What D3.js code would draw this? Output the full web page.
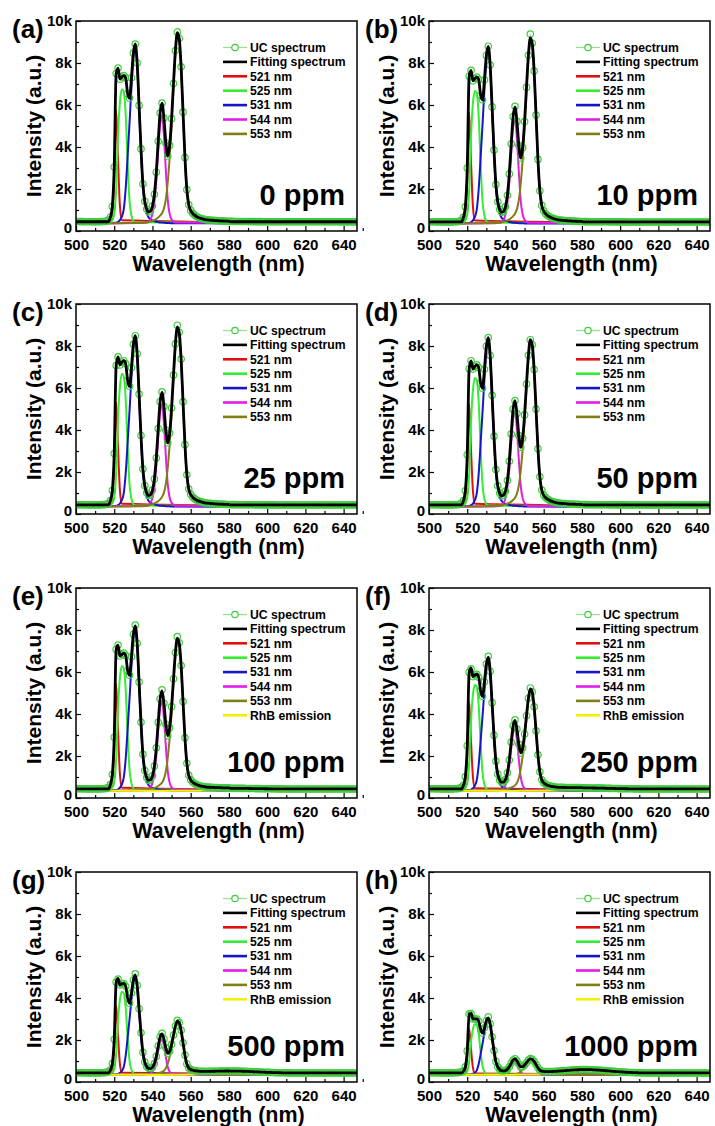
<!DOCTYPE html>
<html>
<head>
<meta charset="utf-8">
<script src="https://cdn.jsdelivr.net/npm/d3@7"></script>
<style>
  body { margin: 0; background: #fff; }
  svg text { font-family: "Liberation Sans", Arial, sans-serif; font-weight: bold; }
</style>
</head>
<body>
<svg id="fig" width="715" height="1126"></svg>
<script>
// ---- data ----
var panelTags = ["(a)", "(b)", "(c)", "(d)", "(e)", "(f)", "(g)", "(h)"];
var dopings = ["0 ppm", "10 ppm", "25 ppm", "50 ppm", "100 ppm", "250 ppm", "500 ppm", "1000 ppm"];
var xTicks = [500, 520, 540, 560, 580, 600, 620, 640];
var yTicks = [0, 2000, 4000, 6000, 8000, 10000];
var yTickLabels = ["0", "2k", "4k", "6k", "8k", "10k"];

// baseline of the fit and of the component curves, per panel
var fitBaseline = [440, 430, 430, 430, 430, 430, 430, 430];
var compBaseline = [350, 340, 340, 340, 340, 340, 340, 340];

// normalised shape of each fitted band (1 nm steps from its start wavelength)
var start521 = 518;
var shape521 = [0.03, 0.1, 0.4, 1, 0.55, 0.15, 0.03];
var start525 = 518;
var shape525 = [0.01, 0.03, 0.07, 0.25, 0.66, 0.9, 0.99, 0.97, 0.8, 0.45, 0.17, 0.06, 0.02, 0.01];
var start531 = 521;
var shape531 = [0.005, 0.01, 0.02, 0.04, 0.083, 0.2, 0.38, 0.57, 0.77, 0.94, 1, 0.9, 0.66, 0.41, 0.21,
  0.11, 0.06, 0.035, 0.025, 0.018, 0.014, 0.011, 0.009, 0.007, 0.006, 0.005, 0.004, 0.0035, 0.003, 0.0025];
var start544 = 537;
var shape544 = [0.01, 0.02, 0.04, 0.09, 0.2, 0.4, 0.68, 0.93, 1, 0.82, 0.5, 0.22, 0.09, 0.04, 0.02, 0.01];
var start553 = 534;
var shape553 = [0.003, 0.004, 0.005, 0.006, 0.008, 0.011, 0.015, 0.019, 0.025, 0.032, 0.042, 0.055, 0.08,
  0.13, 0.22, 0.35, 0.52, 0.72, 0.9, 1, 0.97, 0.82, 0.58, 0.34, 0.17, 0.09, 0.06, 0.045, 0.035, 0.028,
  0.023, 0.019, 0.016, 0.013, 0.011, 0.01, 0.009, 0.008, 0.007, 0.006, 0.0055, 0.005, 0.0045, 0.004,
  0.0035, 0.003, 0.0025];
var startRhB = 556;
var shapeRhB = [0.09, 0.11, 0.135, 0.16, 0.19, 0.22, 0.25, 0.29, 0.325, 0.37, 0.41, 0.46, 0.505, 0.555,
  0.605, 0.655, 0.705, 0.755, 0.8, 0.84, 0.88, 0.915, 0.945, 0.97, 0.985, 0.995, 1, 0.995, 0.985, 0.97,
  0.945, 0.915, 0.88, 0.84, 0.8, 0.755, 0.705, 0.655, 0.605, 0.555, 0.505, 0.46, 0.41, 0.37, 0.325, 0.29,
  0.25, 0.22, 0.19, 0.16, 0.135, 0.11, 0.09, 0.07, 0.055, 0.04, 0.03];

// band heights above the baseline, per panel (a)..(h)
var amp521 = [5400, 5300, 5000, 4900, 5100, 4250, 3300, 2200];
var amp525 = [6460, 6400, 6400, 6200, 6010, 5100, 4000, 2430];
var amp531 = [8400, 8300, 8000, 7910, 7710, 6220, 4630, 2600];
var amp544 = [5100, 4940, 4850, 4490, 4230, 2970, 1700, 620];
var amp553 = [9000, 8770, 8470, 7870, 7170, 4770, 2470, 670];
var ampRhB = [0, 0, 0, 0, 30, 50, 90, 160];

// measured UC spectra, 500..647 nm in 1 nm steps
var ucStart = 500;
var ucA = [452,449,447,446,445,444,444,443,443,442,443,443,444,446,449,455,470,520,
  670,1170,3050,7500,7760,7230,7330,7400,7290,6540,6330,7300,8470,8900,8000,5980,3910,2240,1410,1050,
  910,950,1190,1750,2800,4270,5620,6090,5380,4190,3570,4070,5350,7020,8590,9480,9170,7820,5660,3500,
  1970,1250,980,850,760,690,650,610,580,560,540,530,520,510,505,495,490,485,480,475,470,465,460,
  458,456,455,454,453,452,451,450,449,449,448,447,447,446,446,445,445,444,444,444,443,443,443,442,442,
  442,442,441,441,441,441,440,440,440,440,440,440,439,439,439,439,439,439,438,438,438,438,438,438,438,
  437,437,437,437,437,437,437,436,436,436,436,436,436,436,436,436,436];
var ucB = [442,439,437,436,435,434,434,433,433,432,433,433,434,436,439,445,460,505,
  650,1150,3000,7370,7650,7150,7260,7330,7210,6460,6250,7200,8360,8800,7900,5910,3860,2210,1390,1030,
  890,930,1160,1700,2720,4150,5450,5940,5220,4070,3480,3970,5210,6840,8370,9380,8940,7620,5520,3410,
  1920,1220,960,825,740,680,630,600,570,545,525,520,510,500,490,485,480,475,470,465,460,455,450,
  448,446,445,444,443,442,441,440,439,439,438,437,437,436,436,435,435,434,434,434,433,433,433,432,432,
  432,432,431,431,431,431,430,430,430,430,430,430,429,429,429,429,429,429,428,428,428,428,428,428,428,
  427,427,427,427,427,427,427,426,426,426,426,426,426,426,426,426,426];
var ucC = [442,439,437,436,435,434,434,433,433,432,433,433,434,436,439,445,460,505,
  640,1120,2880,7070,7480,7100,7240,7300,7150,6350,6080,6970,8080,8490,7630,5710,3740,2140,1350,1010,
  880,920,1140,1670,2670,4070,5350,5820,5120,3990,3390,3860,5050,6620,8100,8990,8650,7380,5340,3310,
  1870,1190,940,810,730,670,625,590,565,540,525,515,505,500,490,480,475,470,468,464,460,455,450,
  448,446,445,444,443,442,441,440,439,439,438,437,437,436,436,435,435,434,434,434,433,433,433,432,432,
  432,432,431,431,431,431,430,430,430,430,430,430,429,429,429,429,429,429,428,428,428,428,428,428,428,
  427,427,427,427,427,427,427,426,426,426,426,426,426,426,426,426,426];
var ucD = [442,439,437,436,435,434,434,433,433,432,433,433,434,436,439,445,460,505,
  640,1110,2820,6920,7300,6900,7030,7100,6970,6230,5990,6890,7990,8400,7550,5650,3700,2120,1340,1000,
  860,900,1090,1590,2510,3810,4990,5400,4780,3730,3180,3610,4720,6190,7560,8300,8060,6880,5000,3110,
  1770,1140,900,780,710,650,610,580,555,530,515,510,500,495,485,475,475,470,465,460,458,455,450,
  448,446,445,444,443,442,441,440,439,439,438,437,437,436,436,435,435,434,434,434,433,433,433,432,432,
  432,432,431,431,431,431,430,430,430,430,430,430,429,429,429,429,429,429,428,428,428,428,428,428,428,
  427,427,427,427,427,427,427,426,426,426,426,426,426,426,426,426,426];
var ucE = [442,439,437,436,435,434,434,433,433,432,433,433,434,436,439,445,460,505,
  640,1120,2890,7070,7280,6760,6840,6900,6780,6060,5850,6730,7800,8230,7370,5520,3610,2080,1310,980,
  840,870,1060,1520,2390,3600,4720,5150,4510,3510,2970,3340,4350,5680,6930,7690,7390,6310,4590,2870,
  1650,1080,870,760,690,640,605,575,555,535,525,520,515,505,500,495,495,490,488,485,483,480,480,
  460,460,460,459,459,458,457,456,455,454,453,451,450,448,447,445,444,442,441,440,439,438,437,436,435,
  434,433,433,432,432,431,431,430,430,430,430,429,429,429,429,429,428,428,428,428,428,428,427,427,427,
  427,427,427,427,426,426,426,426,426,426,426,426,426,426,426,426];
var ucF = [442,439,437,436,435,434,434,433,433,432,433,433,434,436,439,445,460,505,
  610,1010,2490,5990,6150,5780,5860,5890,5750,5090,4840,5530,6380,6750,6030,4540,2990,1760,1140,860,
  745,760,880,1200,1810,2660,3440,3720,3280,2560,2150,2390,3050,3920,4750,5240,5060,4340,3200,2060,
  1250,870,730,655,610,580,555,540,525,515,505,505,505,500,500,495,495,496,495,495,494,493,490,
  480,480,480,479,478,477,476,474,472,470,468,465,463,460,458,455,453,450,448,446,444,442,441,440,438,
  437,435,434,433,433,432,431,430,430,430,430,429,429,429,429,429,428,428,428,428,428,428,427,427,427,
  427,427,427,427,426,426,426,426,426,426,426,426,426,426,426,426];
var ucG = [442,439,437,436,435,434,434,433,433,432,433,433,434,436,439,445,460,505,
  570,880,2030,4750,4900,4620,4670,4690,4560,3990,3750,4240,4860,5150,4600,3490,2340,1410,950,740,
  650,640,700,880,1220,1710,2150,2320,2050,1620,1360,1460,1790,2240,2670,2940,2830,2460,1870,1280,
  860,670,595,560,540,525,515,510,505,505,500,505,505,510,510,515,515,520,520,522,524,524,525,
  520,520,520,519,517,515,512,509,506,502,498,493,489,484,480,475,471,467,463,459,456,452,450,447,444,
  442,440,438,436,435,434,433,430,430,430,430,429,429,429,429,429,428,428,428,428,428,428,427,427,427,
  427,427,427,427,426,426,426,426,426,426,426,426,426,426,426,426];
var ucH = [442,439,437,436,435,434,434,433,433,432,433,433,434,436,439,445,460,480,
  520,720,1480,3250,3260,3000,3010,3000,2890,2510,2330,2580,2920,3100,2770,2150,1500,980,720,600,
  540,530,545,600,720,900,1050,1110,1005,840,720,730,810,920,1040,1120,1080,980,830,680,
  565,515,500,495,495,495,500,500,505,515,520,525,535,540,550,555,560,565,575,580,585,587,590,
  590,590,590,585,585,580,575,570,565,560,550,545,535,525,520,510,505,495,490,480,475,470,465,460,455,
  450,450,445,440,440,435,435,430,430,430,430,429,429,429,429,429,428,428,428,428,428,428,427,427,427,
  427,427,427,427,426,426,426,426,426,426,426,426,426,426,426,426];
var ucSpectra = [ucA, ucB, ucC, ucD, ucE, ucF, ucG, ucH];

// ---- layout ----
var colX = [76, 429];
var rowY = [21, 304, 588, 872];
var plotW = 281, plotH = 210;
var xMin = 500, xMax = 647;

var bands = [
  { name: "521 nm", color: "#e01010", start: start521, shape: shape521, amp: amp521 },
  { name: "525 nm", color: "#33ee33", start: start525, shape: shape525, amp: amp525 },
  { name: "531 nm", color: "#1616c8", start: start531, shape: shape531, amp: amp531 },
  { name: "544 nm", color: "#e41ce4", start: start544, shape: shape544, amp: amp544 },
  { name: "553 nm", color: "#7f7d14", start: start553, shape: shape553, amp: amp553 },
  { name: "RhB emission", color: "#f2f200", start: startRhB, shape: shapeRhB, amp: ampRhB }
];

var ucLine = "#8fe08f", ucMark = "#3fcc3f";

var svg = d3.select("#fig");
var x = d3.scaleLinear().domain([xMin, xMax]).range([0, plotW]);
var y = d3.scaleLinear().domain([0, 10000]).range([plotH, 0]);
var smooth = d3.line().x(function (d) { return x(d[0]); }).y(function (d) { return y(d[1]); })
  .curve(d3.curveMonotoneX);
var straight = d3.line().x(function (d) { return x(d[0]); }).y(function (d) { return y(d[1]); });

function bandValue(b, i, w) {
  var j = w - b.start;
  return (j >= 0 && j < b.shape.length) ? b.amp[i] * b.shape[j] : 0;
}

function styleAxis(g) {
  g.select(".domain").remove();
  g.attr("font-family", null).attr("font-size", null);
  g.selectAll("line").attr("stroke", "#000").attr("stroke-width", 1.2);
  g.selectAll("text").attr("font-size", 15).attr("fill", "#000");
}

panelTags.forEach(function (tag, i) {
  var col = i % 2, row = Math.floor(i / 2);
  var g = svg.append("g").attr("transform", "translate(" + colX[col] + "," + rowY[row] + ")");

  g.append("clipPath").attr("id", "clip" + i)
    .append("rect").attr("width", plotW).attr("height", plotH);
  var plot = g.append("g").attr("clip-path", "url(#clip" + i + ")");

  var active = bands.filter(function (b) { return b.amp[i] > 0; });

  // component bands
  active.forEach(function (b) {
    var pts = [[xMin, compBaseline[i]]];
    b.shape.forEach(function (v, j) { pts.push([b.start + j, compBaseline[i] + b.amp[i] * v]); });
    pts.push([xMax, compBaseline[i]]);
    plot.append("path").attr("d", smooth(pts))
      .attr("fill", "none").attr("stroke", b.color).attr("stroke-width", 2);
  });

  // measured UC spectrum
  var uc = ucSpectra[i].map(function (v, j) { return [ucStart + j, v]; });
  plot.append("path").attr("d", straight(uc))
    .attr("fill", "none").attr("stroke", ucLine).attr("stroke-width", 1);
  plot.append("g").selectAll("circle").data(uc).join("circle")
    .attr("cx", function (d) { return x(d[0]); })
    .attr("cy", function (d) { return y(d[1]); })
    .attr("r", 3.2)
    .attr("fill", "none").attr("stroke", ucMark).attr("stroke-width", 1.2);

  // fitting spectrum = baseline + sum of bands
  var fit = d3.range(xMin, xMax + 1).map(function (w) {
    return [w, fitBaseline[i] + d3.sum(active, function (b) { return bandValue(b, i, w); })];
  });
  plot.append("path").attr("d", smooth(fit))
    .attr("fill", "none").attr("stroke", "#000").attr("stroke-width", 2.8);

  // frame
  g.append("rect").attr("width", plotW).attr("height", plotH)
    .attr("fill", "none").attr("stroke", "#000").attr("stroke-width", 1.5);

  // axes with inward ticks
  g.append("g").attr("transform", "translate(0," + plotH + ")")
    .call(d3.axisBottom(x).tickValues(xTicks).tickSizeInner(-5).tickSizeOuter(0).tickPadding(8))
    .call(styleAxis);
  g.append("g").attr("transform", "translate(0," + plotH + ")")
    .call(d3.axisBottom(x).tickValues(xTicks.map(function (t) { return t + 10; }))
      .tickSizeInner(-3).tickSizeOuter(0).tickFormat(""))
    .call(styleAxis);
  var yAx = g.append("g")
    .call(d3.axisLeft(y).tickValues(yTicks).tickSizeInner(-5).tickSizeOuter(0).tickPadding(4)
      .tickFormat(function (d, k) { return yTickLabels[k]; }))
    .call(styleAxis);
  // the "0" label sits a little higher so it clears the "500" below it
  yAx.selectAll(".tick text").filter(function (d) { return d === 0; }).attr("dy", "0.1em");
  g.append("g")
    .call(d3.axisLeft(y).tickValues(yTicks.slice(0, -1).map(function (t) { return t + 1000; }))
      .tickSizeInner(-3).tickSizeOuter(0).tickFormat(""))
    .call(styleAxis);

  // titles
  g.append("text").attr("transform", "translate(-35," + (plotH / 2) + ") rotate(-90)")
    .attr("text-anchor", "middle").attr("font-size", 21).text("Intensity (a.u.)");
  g.append("text").attr("x", plotW / 2 + 2).attr("y", plotH + 40)
    .attr("text-anchor", "middle").attr("font-size", 21.5).text("Wavelength (nm)");
  g.append("text").attr("x", -64).attr("y", 17).attr("font-size", 26).text(tag);
  g.append("text").attr("x", plotW - 12).attr("y", 184)
    .attr("text-anchor", "end").attr("font-size", 29).text(dopings[i]);

  // legend
  var items = [{ label: "UC spectrum", uc: true }, { label: "Fitting spectrum", color: "#000" }]
    .concat(active.map(function (b) { return { label: b.name, color: b.color }; }));
  var leg = g.append("g");
  items.forEach(function (it, r) {
    var ly = 26.5 + r * 14.4;
    if (it.uc) {
      leg.append("line").attr("x1", 147).attr("x2", 171).attr("y1", ly).attr("y2", ly)
        .attr("stroke", ucLine).attr("stroke-width", 1.2);
      leg.append("circle").attr("cx", 159).attr("cy", ly).attr("r", 3.2)
        .attr("fill", "#fff").attr("stroke", ucMark).attr("stroke-width", 1.2);
    } else {
      leg.append("line").attr("x1", 147).attr("x2", 171).attr("y1", ly).attr("y2", ly)
        .attr("stroke", it.color).attr("stroke-width", 2.6);
    }
    leg.append("text").attr("x", 174).attr("y", ly).attr("dy", "0.36em")
      .attr("font-size", 12.2).text(it.label);
  });
});
</script>
</body>
</html>
